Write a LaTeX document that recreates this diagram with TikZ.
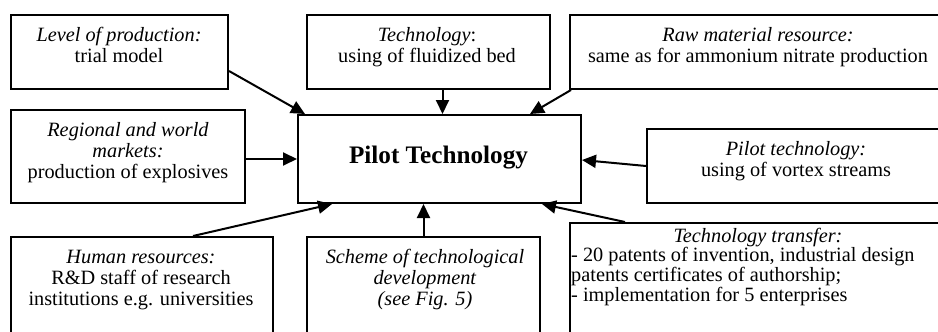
\documentclass[tikz,border=0pt]{standalone}
\usepackage{fontspec}
\setmainfont{Liberation Serif}
\usetikzlibrary{arrows.meta}

% anchor=base of a multi-line node sits on its last line
\tikzset{
  box/.style={draw, rectangle, line width=2pt, inner sep=0pt, anchor=north west},
  txt/.style={font=\fontsize{20.3}{20.8}\selectfont, align=center, inner sep=0pt, anchor=base},
  arr/.style={-{Triangle[length=14pt,width=13pt]}, line width=2pt}
}

\begin{document}
\begin{tikzpicture}[x=1pt, y=-1pt]
\useasboundingbox (0,0) rectangle (938,332);

% frames
\node[box, minimum width=217pt, minimum height=74pt]  (lvl) at (10,14) {};
\node[box, minimum width=243pt, minimum height=74pt]  (tech) at (306,14) {};
\node[box, minimum width=378pt, minimum height=74pt]  (raw) at (569,14) {};
\node[box, minimum width=234pt, minimum height=93pt]  (reg) at (10,109) {};
\node[box, minimum width=283pt, minimum height=88pt]  (pt) at (297,114) {};
\node[box, minimum width=300pt, minimum height=74pt]  (pil) at (646,128) {};
\node[box, minimum width=262pt, minimum height=109pt] (hum) at (10,236) {};
\node[box, minimum width=233pt, minimum height=109pt] (sch) at (306,236) {};
\node[box, minimum width=378pt, minimum height=123pt] (tt) at (569,222) {};

% texts (positions give the baseline of the last line)
\node[txt] (lvlT) at (119,62) {\textit{Level of production:}\\trial model};
\node[txt] (techT) at (427,62) {\textit{Technology}:\\using of fluidized bed};
\node[txt] (rawT) at (758,62) {\textit{Raw material resource:}\\same as for ammonium nitrate production};
\node[txt] (regT) at (128,178) {\textit{Regional and world}\\\textit{markets:}\\production of explosives};
\node[txt, font=\fontsize{25.2}{27}\selectfont\bfseries] (ptT) at (438.5,163) {Pilot Technology};
\node[txt] (pilT) at (796,176) {\textit{Pilot technology:}\\using of vortex streams};
\node[txt] (humT) at (141,305) {\textit{Human resources:}\\R\&D staff of research\\institutions e.g. universities};
\node[txt] (schT) at (425,305) {\textit{Scheme of technological}\\\textit{development}\\\textit{(see Fig. 5)}};
\node[txt] (ttT) at (758,242) {\textit{Technology transfer:}};
\node[txt, font=\fontsize{20.3}{19.6}\selectfont, align=left, anchor=base west] (ttB) at (571,301) {- 20 patents of invention, industrial design\\patents certificates of authorship;\\- implementation for 5 enterprises};

% connectors
\draw[arr] ([yshift=-19pt]lvl.east) -- ([xshift=8pt]pt.north west);
\draw[arr] ([xshift=3pt]pt.north |- tech.south) -- ([xshift=3pt]pt.north);
\draw[arr] ([xshift=2pt]raw.south west) -- ([xshift=-52pt]pt.north east);
\draw[arr] ([yshift=-2.5pt]reg.east) -- ([yshift=-2.5pt]reg.east -| pt.west);
\draw[arr] (pil.west) -- ([yshift=-1pt]pt.east);
\draw[arr] ([xshift=51pt]hum.north) -- ([xshift=35pt]pt.south west);
\draw[arr] (sch.north) -- (sch.north |- pt.south);
\draw[arr] ([xshift=56pt]tt.north west) -- ([xshift=-40pt]pt.south east);
\end{tikzpicture}
\end{document}
